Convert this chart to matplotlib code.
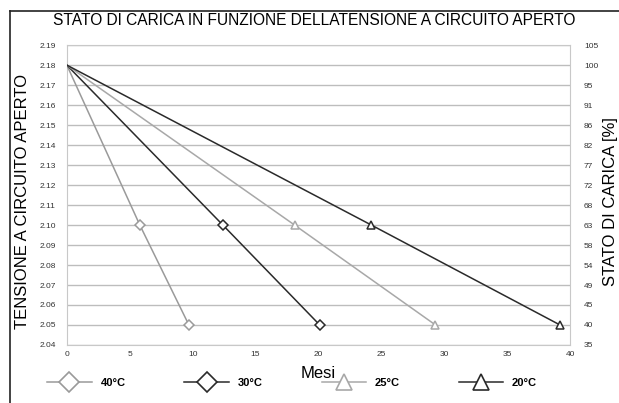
import matplotlib.pyplot as plt
from matplotlib.lines import Line2D

# Dati
mesi_40 = [0, 5.8, 9.7]
mesi_30 = [0, 12.4, 20.1]
mesi_25 = [0, 18.1, 29.3]
mesi_20 = [0, 24.2, 39.2]
tensione = [2.18, 2.10, 2.05]

serie = ["40°C", "30°C", "25°C", "20°C"]
colori = ["#9a9a9a", "#2a2a2a", "#a8a8a8", "#2a2a2a"]
marker = ["D", "D", "^", "^"]

tick_sx = [2.19, 2.18, 2.17, 2.16, 2.15, 2.14, 2.13, 2.12, 2.11, 2.10,
           2.09, 2.08, 2.07, 2.06, 2.05, 2.04]
tick_dx = ["105", "100", "95", "91", "86", "82", "77", "72", "68", "63",
           "58", "54", "49", "45", "40", "35"]

plt.rcParams['font.family'] = ['Liberation Sans', 'DejaVu Sans']

fig = plt.figure(figsize=(6.19, 4.03), dpi=100)
ax = fig.add_axes([0.108, 0.144, 0.813, 0.744])

dati = [mesi_40, mesi_30, mesi_25, mesi_20]
for x, c, m in zip(dati, colori, marker):
    ax.plot(x, tensione, color=c, lw=1.1, marker=m, markersize=5 if m == "D" else 6,
            markerfacecolor="white", markeredgecolor=c, markeredgewidth=1.1,
            markevery=[1, 2], zorder=3)

ax.set_xlim(0, 40)
ax.set_ylim(2.04, 2.19)
ax.set_xticks(range(0, 41, 5))
ax.set_yticks(tick_sx)
ax.set_yticklabels([f"{v:.2f}" for v in tick_sx])
ax.grid(axis="y", color="#bdbdbd", lw=1.0)
ax.set_axisbelow(True)
for s in ax.spines.values():
    s.set_color("#c8c8c8")
ax.tick_params(length=0, labelsize=6, colors="#333333", pad=8)
ax.tick_params(axis="x", pad=4)

ax2 = ax.twinx()
ax2.set_ylim(2.04, 2.19)
ax2.set_yticks(tick_sx)
ax2.set_yticklabels(tick_dx)
ax2.tick_params(length=0, labelsize=6, colors="#333333", pad=10)
for s in ax2.spines.values():
    s.set_visible(False)

ax.set_xlabel("Mesi", fontsize=12, labelpad=6)
fig.text(0.036, 0.5, "TENSIONE A CIRCUITO APERTO", rotation=90, fontsize=12,
         ha="center", va="center")
fig.text(0.987, 0.5, "STATO DI CARICA [%]", rotation=90, fontsize=12,
         ha="center", va="center")
fig.text(0.508, 0.948, "STATO DI CARICA IN FUNZIONE DELLATENSIONE A CIRCUITO APERTO",
         fontsize=11.2, ha="center", va="center")

# cornice
fig.add_artist(Line2D([0.016, 0.016], [0, 0.973], color="#222222", lw=1.2))
fig.add_artist(Line2D([0.016, 1.0], [0.973, 0.973], color="#222222", lw=1.2))

# legenda
maniglie = [Line2D([0], [0], color=c, lw=1.1, marker=m, markersize=10 if m == "D" else 11,
                   markerfacecolor="white", markeredgecolor=c, markeredgewidth=1.2)
            for c, m in zip(colori, marker)]
leg = fig.legend(maniglie, serie, loc="center", bbox_to_anchor=(0.472, 0.05), ncol=4,
                 frameon=False, handlelength=4.0, columnspacing=5.3,
                 prop={"weight": "bold", "size": 8})

fig.savefig("out.png", dpi=100)
